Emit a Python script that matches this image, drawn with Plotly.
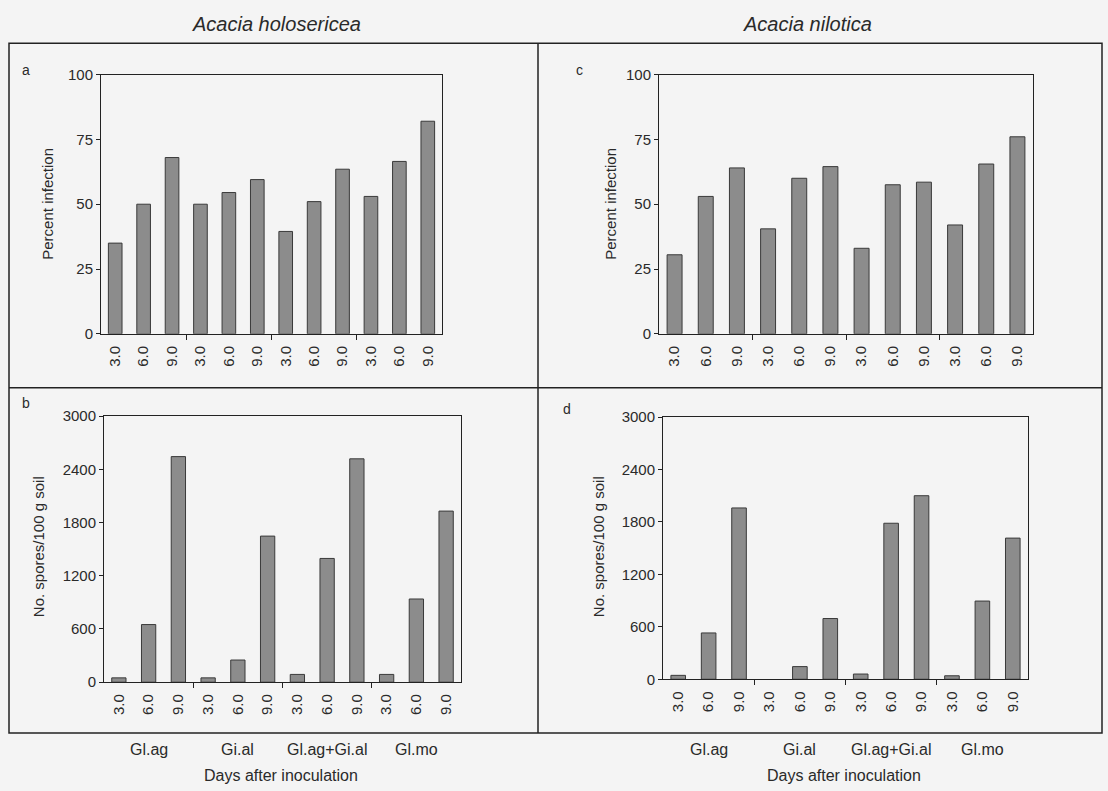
import plotly.graph_objects as go

# Treatments and sampling days (days after inoculation)
days = ["3.0", "6.0", "9.0"]
groups = ["Gl.ag", "Gi.al", "Gl.ag+Gi.al", "Gl.mo"]

# Percent root infection
holo_infection = [35, 50, 68, 50, 54.5, 59.5, 39.5, 51, 63.5, 53, 66.5, 82]
nilo_infection = [30.5, 53, 64, 40.5, 60, 64.5, 33, 57.5, 58.5, 42, 65.5, 76]

# Number of spores per 100 g soil
holo_spores = [49, 650, 2543, 49, 250, 1647, 88, 1395, 2518, 88, 938, 1929]
nilo_spores = [45, 530, 1960, 0, 145, 695, 60, 1785, 2100, 40, 895, 1615]

W, H = 1108, 791
FONT = "Liberation Sans, Arial, sans-serif"
INK = "#2a2a2a"
BG = "#f4f4f4"
BAR = "#8c8c8c"

labels = [d for g in groups for d in days]
xpos = list(range(len(labels)))
boundaries = [len(days) * (i + 1) - 0.5 for i in range(len(groups) - 1)]
centres = [len(days) * i + (len(days) - 1) / 2 for i in range(len(groups))]


def px(x):
    return x / W


def py(y):
    return 1 - y / H


fig = go.Figure()

panels = [
    # (values, xaxis, yaxis, x-domain px, y-domain px, y range, dtick)
    (holo_infection, "x", "y", (101, 442), (67, 332), 100, 25),
    (nilo_infection, "x2", "y2", (659, 1033), (67, 332), 100, 25),
    (holo_spores, "x3", "y3", (104, 461), (416, 688), 3000, 600),
    (nilo_spores, "x4", "y4", (663, 1028), (417, 685), 3000, 600),
]

layout_axes = {}
for i, (vals, xa, ya, xd, yd, ymax, dt) in enumerate(panels):
    # empty bars get no outline
    widths = [1 if v > 0 else 0 for v in vals]
    fig.add_trace(go.Bar(
        x=xpos, y=vals, xaxis=xa, yaxis=ya, width=0.48,
        marker=dict(color=BAR, line=dict(color="#3a3a3a", width=widths)),
        showlegend=False, hoverinfo="x+y",
    ))
    suffix = "" if i == 0 else str(i + 1)
    layout_axes["xaxis" + suffix] = dict(
        domain=[px(xd[0]), px(xd[1])],
        anchor=ya,
        range=[-0.5, len(labels) - 0.5],
        tickmode="array", tickvals=xpos, ticktext=labels,
        tickangle=-90, ticks="",
        tickfont=dict(family=FONT, size=15, color=INK),
        ticklabelstandoff=5,
        minor=dict(tickmode="array", tickvals=boundaries, ticks="outside",
                   ticklen=5, tickcolor="#222", tickwidth=1),
        showline=True, linecolor="#222", linewidth=1, mirror=True,
        showgrid=False, zeroline=False, fixedrange=True,
    )
    layout_axes["yaxis" + suffix] = dict(
        domain=[py(yd[1]), py(yd[0])],
        anchor=xa,
        range=[0, ymax],
        tick0=0, dtick=dt,
        ticks="outside", ticklen=4, tickcolor="#222",
        tickfont=dict(family=FONT, size=15, color=INK),
        showline=True, linecolor="#222", linewidth=1, mirror=True,
        showgrid=False, zeroline=False, fixedrange=True,
    )

fig.update_layout(**layout_axes)

annotations = []


def text(x, y, s, size=15, angle=0, italic=False, family=FONT):
    annotations.append(dict(
        x=px(x), y=py(y), xref="paper", yref="paper", text=s, showarrow=False,
        xanchor="center", yanchor="middle", textangle=angle,
        font=dict(family=family, size=size, color=INK,
                  style="italic" if italic else "normal"),
    ))


# Species headings
text(276, 15, "Acacia holosericea", size=20, italic=True)
text(807, 15, "Acacia nilotica", size=20, italic=True)

# Panel letters
text(26, 62, "a", size=14)
text(579, 62, "c", size=14)
text(26, 403, "b", size=14)
text(567, 409, "d", size=14)

# Y-axis titles
text(48, 199, "Percent infection", size=15, angle=-90)
text(611, 199, "Percent infection", size=15, angle=-90)
text(38, 550, "No. spores/100 g soil", size=15, angle=-90)
text(598, 550, "No. spores/100 g soil", size=15, angle=-90)

# Treatment labels under each bottom panel, centred on the middle bar of each group
for xa, xd in (("x3", (104, 461)), ("x4", (663, 1028))):
    for c, g in zip(centres, groups):
        annotations.append(dict(
            x=c, y=py(757), xref=xa, yref="paper", text=g, showarrow=False,
            xanchor="center", yanchor="middle",
            font=dict(family=FONT, size=16, color=INK),
        ))
    text((xd[0] + xd[1]) / 2 - 2, 783, "Days after inoculation", size=16)

# Frame around the four panels
shapes = [
    dict(type="rect", xref="paper", yref="paper",
         x0=px(9), x1=px(1102), y0=py(740), y1=py(35),
         line=dict(color="#222", width=1.5)),
    dict(type="line", xref="paper", yref="paper",
         x0=px(538), x1=px(538), y0=py(740), y1=py(35),
         line=dict(color="#222", width=1.5)),
    dict(type="line", xref="paper", yref="paper",
         x0=px(9), x1=px(1102), y0=py(387), y1=py(387),
         line=dict(color="#222", width=1.5)),
]

fig.update_layout(
    width=W, height=H, autosize=False,
    margin=dict(l=0, r=0, t=0, b=0),
    paper_bgcolor=BG, plot_bgcolor=BG,
    annotations=annotations, shapes=shapes,
    bargap=0.5, showlegend=False,
)

fig.write_html("out.html")
